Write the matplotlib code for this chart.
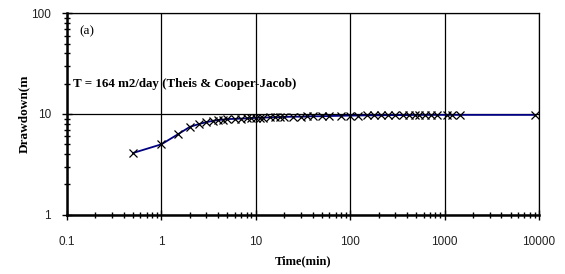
import matplotlib.pyplot as plt
from matplotlib.ticker import LogLocator, NullFormatter, FixedLocator

# time since pumping started (min) and drawdown (m)
time_min = [0.5, 1, 1.5, 2, 2.5, 3, 3.5, 4, 4.5, 5, 6, 7, 8, 9, 10, 11, 12, 14,
            16, 18, 20, 25, 30, 35, 40, 50, 60, 80, 100, 120, 150, 180, 210,
            250, 300, 360, 420, 480, 540, 620, 720, 840, 1050, 1200, 1440, 9000]
drawdown = [4.1, 5.0, 6.3, 7.45, 7.95, 8.3, 8.55, 8.7, 8.8, 8.9, 8.95, 9.0,
            9.05, 9.1, 9.15, 9.2, 9.2, 9.25, 9.3, 9.3, 9.35, 9.4, 9.4, 9.45,
            9.5, 9.5, 9.55, 9.6, 9.65, 9.65, 9.7, 9.7, 9.7, 9.75, 9.75, 9.75,
            9.75, 9.8, 9.8, 9.8, 9.8, 9.8, 9.8, 9.8, 9.8, 9.8]

x_ticks = [0.1, 1, 10, 100, 1000, 10000]
x_labels = ['0.1', '1', '10', '100', '1000', '10000']
y_ticks = [1, 10, 100]
y_labels = ['1', '10', '100']

serif = ['Liberation Serif', 'DejaVu Serif']
sans = ['Liberation Sans', 'DejaVu Sans']

fig = plt.figure(figsize=(5.65, 2.74), dpi=100)
ax = fig.add_axes([0.1186, 0.2164, 0.8354, 0.7351])

ax.plot(time_min, drawdown, color='#000080', lw=1.3, zorder=2)
ax.plot(time_min, drawdown, ls='none', marker='x', ms=5.5, mew=0.9,
        color='black', zorder=3)

ax.set_xscale('log')
ax.set_yscale('log')
ax.set_xlim(0.1, 10000)
ax.set_ylim(1, 100)

ax.xaxis.set_major_locator(FixedLocator(x_ticks))
ax.set_xticklabels(x_labels, family=sans, fontsize=8.5, color='#222222')
ax.yaxis.set_major_locator(FixedLocator(y_ticks))
ax.set_yticklabels(y_labels, family=sans, fontsize=8.5, color='#222222')
ax.xaxis.set_minor_locator(LogLocator(base=10, subs=range(2, 10)))
ax.yaxis.set_minor_locator(LogLocator(base=10, subs=range(2, 10)))
ax.xaxis.set_minor_formatter(NullFormatter())
ax.yaxis.set_minor_formatter(NullFormatter())

ax.tick_params(axis='x', which='major', direction='inout', length=7, width=1, pad=12)
ax.tick_params(axis='y', which='major', direction='inout', length=7, width=1, pad=8)
ax.tick_params(which='minor', direction='inout', length=5, width=1)

ax.grid(True, which='major', color='black', lw=0.9)
for side in ['left', 'bottom']:
    ax.spines[side].set_linewidth(1.8)
for side in ['top', 'right']:
    ax.spines[side].set_linewidth(0.9)

ax.text(0.026, 0.895, '(a)', transform=ax.transAxes, family=serif, fontsize=9.5)
ax.text(0.013, 0.649, 'T = 164 m2/day (Theis & Cooper-Jacob)',
        transform=ax.transAxes, family=serif, fontsize=9.4, fontweight='bold',
        va='center')

ax.set_xlabel('Time(min)', family=serif, fontsize=9, fontweight='bold', labelpad=5)
ax.set_ylabel('Drawdown(m', family=serif, fontsize=9.5, fontweight='bold', labelpad=1)

fig.savefig('out.png', dpi=100)
